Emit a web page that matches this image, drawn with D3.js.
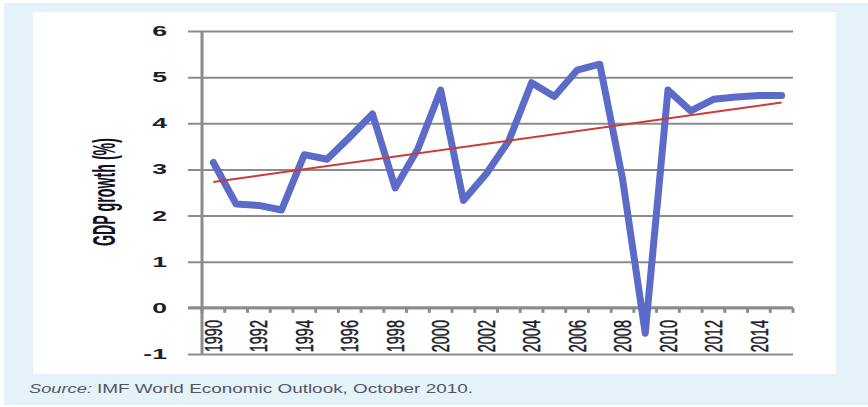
<!DOCTYPE html>
<html>
<head>
<meta charset="utf-8">
<script src="https://cdn.jsdelivr.net/npm/d3@7"></script>
<style>
  html, body { margin: 0; padding: 0; background: #ffffff; }
  svg { display: block; }
</style>
</head>
<body>
<svg id="chart" width="868" height="407"></svg>
<script>
const years = ["1990","1991","1992","1993","1994","1995","1996","1997","1998","1999",
               "2000","2001","2002","2003","2004","2005","2006","2007","2008","2009",
               "2010","2011","2012","2013","2014","2015"];
const gdpGrowth = [3.15, 2.25, 2.22, 2.12, 3.32, 3.22, 3.7, 4.2, 2.6, 3.45,
                   4.72, 2.33, 2.9, 3.62, 4.88, 4.58, 5.15, 5.28, 2.8, -0.55,
                   4.72, 4.27, 4.52, 4.57, 4.6, 4.6];
const trendYears = ["1990", "2015"];
const trendValues = [2.73, 4.45];
const xLabels = ["1990","1992","1994","1996","1998","2000","2002","2004","2006","2008","2010","2012","2014"];
const yTicks = [-1, 0, 1, 2, 3, 4, 5, 6];
const yTitle = "GDP growth (%)";
const sourceLabel = "Source:";
const sourceText = "IMF World Economic Outlook, October 2010.";

const svg = d3.select("#chart");

// background
svg.append("rect").attr("x", 4).attr("y", 3).attr("width", 864).attr("height", 402).attr("fill", "#e3f3f9");
svg.append("rect").attr("x", 33).attr("y", 12).attr("width", 803).attr("height", 362).attr("fill", "#ffffff");

const x = d3.scaleBand().domain(years).range([202, 793]).padding(0);
const y = d3.scaleLinear().domain([-1, 6]).range([354, 31]);
const gridColor = "#8c8c8c";

// gridlines (horizontal), extending left of the axis as ticks
const grid = svg.append("g").attr("transform", "translate(188,0)")
  .call(d3.axisLeft(y).tickValues(yTicks).tickSize(-(793 - 188)).tickSizeOuter(0).tickFormat(""));
grid.select(".domain").remove();
grid.selectAll(".tick line").attr("stroke", gridColor).attr("stroke-width", 2);

// x axis at zero with ticks at category boundaries
const bounds = years.map(d => x(d)).concat([x.range()[1]]);
const xAxisG = svg.append("g").attr("transform", `translate(0,${y(0)})`);
xAxisG.append("line").attr("x1", 188).attr("x2", 793).attr("stroke", gridColor).attr("stroke-width", 3);
xAxisG.selectAll("line.tk").data(bounds).join("line").attr("class", "tk")
  .attr("x1", d => d).attr("x2", d => d).attr("y1", 0).attr("y2", 5)
  .attr("stroke", gridColor).attr("stroke-width", 3);

// y axis line
svg.append("line").attr("x1", 202).attr("x2", 202).attr("y1", y(6)).attr("y2", y(-1))
  .attr("stroke", gridColor).attr("stroke-width", 3);

// y tick labels (stretched horizontally)
svg.append("g").selectAll("text").data(yTicks).join("text")
  .attr("transform", d => `translate(167,${y(d)}) scale(1.9,1)`)
  .attr("text-anchor", "end").attr("dy", "0.36em")
  .attr("font-family", "Liberation Sans, Arial, sans-serif").attr("font-weight", "bold")
  .attr("font-size", 14).attr("fill", "#1d1d2b")
  .text(d => d < 0 ? "-" + Math.abs(d) : d);

// x tick labels (rotated)
svg.append("g").selectAll("text").data(xLabels).join("text")
  .attr("transform", d => `translate(${x(d) + x.bandwidth() / 2},320) rotate(-90) scale(1,1.65)`)
  .attr("text-anchor", "end").attr("dy", "0.36em")
  .attr("font-family", "Liberation Sans, Arial, sans-serif")
  .attr("font-size", 14.5).attr("fill", "#1d1d2b")
  .attr("stroke", "#1d1d2b").attr("stroke-width", 0.3)
  .text(d => d);

// y title
svg.append("text")
  .attr("transform", "translate(104,192) rotate(-90) scale(1,2.2)")
  .attr("text-anchor", "middle").attr("dy", "0.36em")
  .attr("font-family", "Liberation Sans, Arial, sans-serif").attr("font-weight", "bold")
  .attr("font-size", 14).attr("fill", "#111122")
  .attr("textLength", 108).attr("lengthAdjust", "spacingAndGlyphs")
  .text(yTitle);

// main line
const line = d3.line().x((d, i) => x(years[i]) + x.bandwidth() / 2).y(d => y(d));
svg.append("path").datum(gdpGrowth).attr("d", line)
  .attr("fill", "none").attr("stroke", "#5b6bc7").attr("stroke-width", 7)
  .attr("stroke-linejoin", "round").attr("stroke-linecap", "round");

// trend line
const tline = d3.line().x((d, i) => x(trendYears[i]) + x.bandwidth() / 2).y(d => y(d));
svg.append("path").datum(trendValues).attr("d", tline)
  .attr("fill", "none").attr("stroke", "#cc3b36").attr("stroke-width", 2);

// source
svg.append("text").attr("x", 29).attr("y", 393)
  .attr("font-family", "Liberation Sans, Arial, sans-serif").attr("font-style", "italic")
  .attr("font-size", 12).attr("fill", "#555566")
  .attr("textLength", 63).attr("lengthAdjust", "spacingAndGlyphs")
  .text(sourceLabel);
svg.append("text").attr("x", 97).attr("y", 393)
  .attr("font-family", "Liberation Sans, Arial, sans-serif")
  .attr("font-size", 12).attr("fill", "#555566")
  .attr("textLength", 376).attr("lengthAdjust", "spacingAndGlyphs")
  .text(sourceText);
</script>
</body>
</html>
